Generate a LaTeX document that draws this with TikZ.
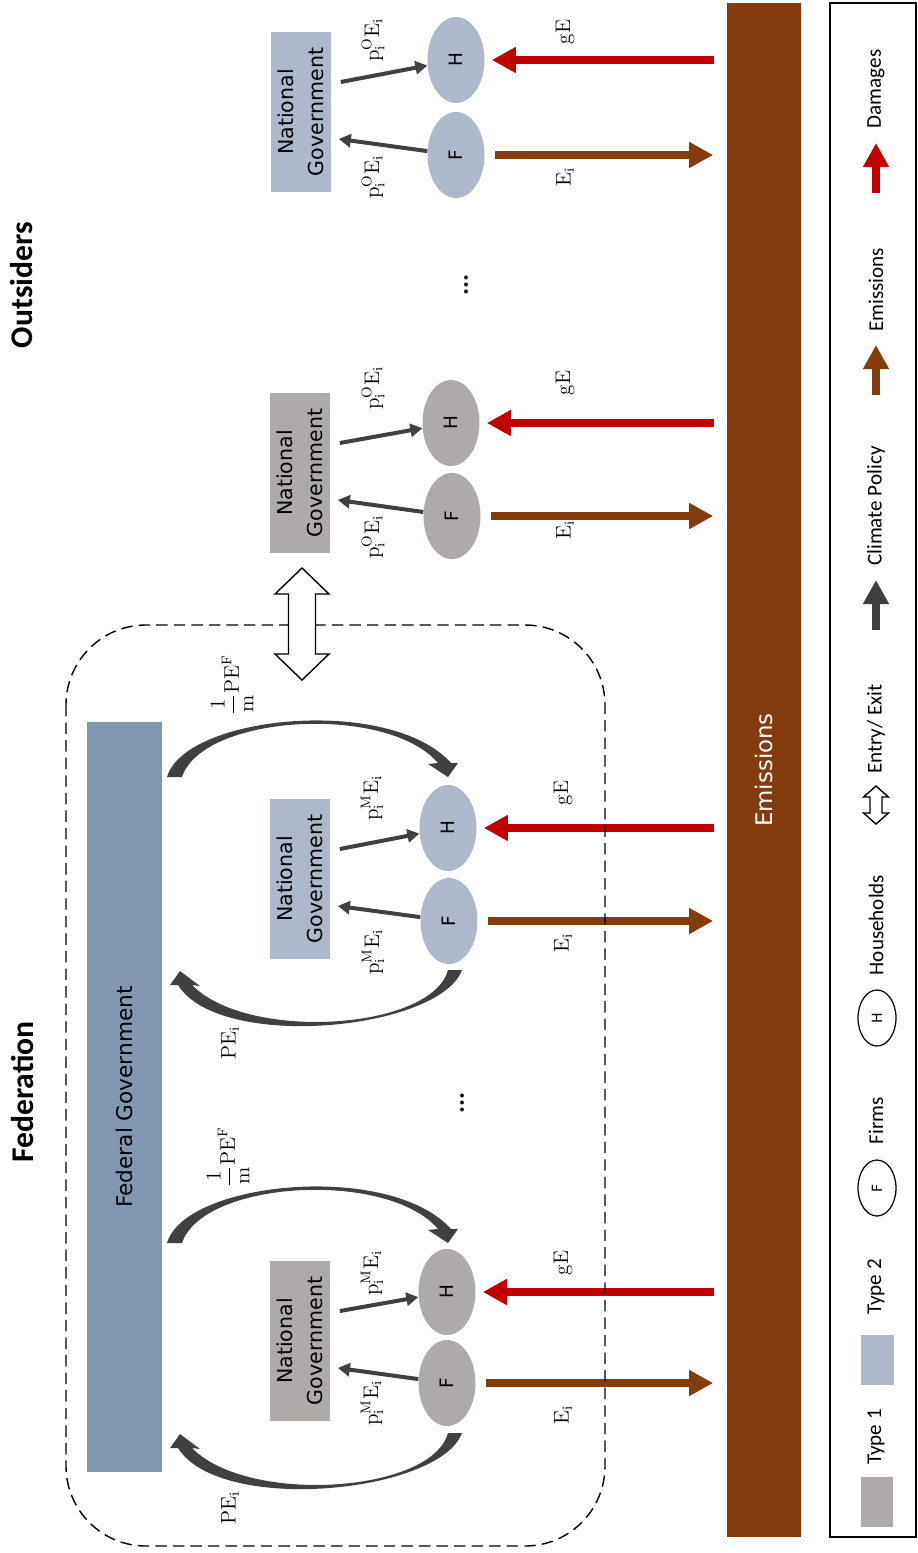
\documentclass[tikz,border=0pt]{standalone}
\usepackage{amsmath}
\usepackage{fontspec}
\newfontfamily\calibri{Carlito}
\newfontfamily\dejavu{DejaVu Sans}
\usepackage{tikz}
\usetikzlibrary{arrows.meta,positioning,shapes.geometric,calc}
\definecolor{cinzaTipo}{HTML}{AEAAAA}
\definecolor{azulTipo}{HTML}{ADB9CA}
\definecolor{azulFederal}{HTML}{8497B0}
\definecolor{marromEmissao}{HTML}{843C0C}
\definecolor{vermelhoDano}{HTML}{C00000}
\definecolor{cinzaEscuro}{HTML}{404040}
\tikzset{
    governo/.style={
        rectangle,
        rotate=90,
        align=center,
        inner sep=0pt,
        minimum width=3.2cm,
        minimum height=1.22cm,
        font=\dejavu\fontsize{11.7}{17}\selectfont
    },
    tipoUm/.style={governo, fill=cinzaTipo},
    tipoDois/.style={governo, fill=azulTipo},
    agente/.style={
        ellipse,
        rotate=90,
        inner sep=0pt,
        minimum width=1.72cm,
        minimum height=1.14cm,
        font=\dejavu\fontsize{10.5}{12}\selectfont
    },
    barra/.style={rectangle, rotate=90, inner sep=0pt, minimum height=1.5cm},
    rotulo/.style={rotate=90, inner sep=1pt, font=\fontsize{12}{14}\selectfont},
    politica/.style={-{Triangle[length=0.24cm, width=0.26cm]}, line width=0.08cm, draw=cinzaEscuro},
    setaGrossa/.style={-{Triangle[length=0.48cm, width=0.49cm]}, line width=0.165cm},
    emissao/.style={setaGrossa, draw=marromEmissao},
    dano/.style={setaGrossa, draw=vermelhoDano},
    curvaSeta/.style={fill=cinzaEscuro},
    regiaoFederacao/.style={draw, dash pattern=on 6.5pt off 3.5pt, line width=0.8pt, rounded corners=1.6cm},
    duplaSeta/.style={draw, fill=white, line width=0.8pt, line join=miter},
    legendaTexto/.style={rotate=90, font=\calibri\fontsize{12}{14}\selectfont},
    titulo/.style={rotate=90, font=\calibri\bfseries\fontsize{18}{21}\selectfont}
}
\newcommand{\arcoFederalH}{%
    \fill[curvaSeta] (167,777) .. controls (185,715) and (390,695) .. (451,763)
        -- (458,763) -- (448,777) -- (428,764) -- (438,763)
        .. controls (388,704) and (203,714) .. (182,777) -- cycle;}
\newcommand{\arcoFFederal}{%
    \fill[curvaSeta] (462,970) .. controls (440,1030) and (220,1052) .. (178,985)
        -- (170,985) -- (180,971) -- (200,986) -- (192,985)
        .. controls (248,1042) and (432,1030) .. (448,970) -- cycle;}

\begin{document}
\begin{tikzpicture}[x=0.02cm, y=-0.02cm]
    \useasboundingbox (0,0) rectangle (918,1553);

    % titulos
    \node[titulo] (federacao) at (22,1092) {Federation};
    \node[titulo] (forasteiros) at (22,285) {Outsiders};

    % barras
    \node[barra, fill=marromEmissao, minimum width=30.68cm, text=white,
        font=\dejavu\fontsize{13}{15}\selectfont] (emis) at (764,770) {Emissions};
    \node[barra, fill=azulFederal, minimum width=15cm,
        font=\dejavu\fontsize{12.3}{15}\selectfont] (federal) at (124.5,1097) {Federal Government};

    % federacao, tipo 1
    \node[tipoUm] (ngA) at (300,1341) {National\\Government};
    \node[agente, fill=cinzaTipo] (hA) at (447,1292) {H};
    \node[agente, fill=cinzaTipo] (fA) at (447,1383) {F};
    % federacao, tipo 2
    \node[tipoDois] (ngB) at (300,879) {National\\Government};
    \node[agente, fill=azulTipo] (hB) at (448,828) {H};
    \node[agente, fill=azulTipo] (fB) at (449,921) {F};
    % outsiders, tipo 1
    \node[tipoUm] (ngC) at (300,473) {National\\Government};
    \node[agente, fill=cinzaTipo] (hC) at (451,423) {H};
    \node[agente, fill=cinzaTipo] (fC) at (452,516) {F};
    % outsiders, tipo 2
    \node[tipoDois] (ngD) at (301,112) {National\\Government};
    \node[agente, fill=azulTipo] (hD) at (456,60) {H};
    \node[agente, fill=azulTipo] (fD) at (456,155) {F};

    \node[rotate=90, font=\calibri\bfseries\fontsize{15}{16}\selectfont] (reticA) at (462,1103) {...};
    \node[rotate=90, font=\calibri\bfseries\fontsize{15}{16}\selectfont] (reticB) at (466,285) {...};

    % fluxos
    \foreach \g in {A,B,C,D}{
        \draw[dano, shorten <=0.24cm, shorten >=0.14cm] (emis.north |- h\g) -- (h\g);
        \draw[emissao, shorten <=0.2cm, shorten >=0.26cm] (f\g) -- (emis.north |- f\g);
        \draw[politica] ($(ng\g.south)+(9,-30)$) -- (h\g);
        \draw[politica] (f\g) -- ($(ng\g.south)+(7,27)$);
    }

    % transferencias federais
    \arcoFederalH
    \arcoFFederal
    \begin{scope}[shift={(0,466)}]
        \arcoFederalH
    \end{scope}
    \begin{scope}[shift={(0,463)}]
        \arcoFFederal
    \end{scope}

    % rotulos
    \node[rotulo] at (372,1273) {$\mathrm{p_i^{M}E_i}$};
    \node[rotulo] at (372,1403) {$\mathrm{p_i^{M}E_i}$};
    \node[rotulo] at (563,1263) {$\mathrm{gE}$};
    \node[rotulo] at (563,1415) {$\mathrm{E_i}$};
    \node[rotulo] at (228,1157) {$\mathrm{\dfrac{1}{m}PE^{F}}$};
    \node[rotulo] at (230,1508) {$\mathrm{PE_i}$};

    \node[rotulo] at (372,798) {$\mathrm{p_i^{M}E_i}$};
    \node[rotulo] at (373,952) {$\mathrm{p_i^{M}E_i}$};
    \node[rotulo] at (563,793) {$\mathrm{gE}$};
    \node[rotulo] at (563,943) {$\mathrm{E_i}$};
    \node[rotulo] at (232,685) {$\mathrm{\dfrac{1}{m}PE^{F}}$};
    \node[rotulo] at (230,1043) {$\mathrm{PE_i}$};

    \node[rotulo] at (373,388) {$\mathrm{p_i^{O}E_i}$};
    \node[rotulo] at (373,537) {$\mathrm{p_i^{O}E_i}$};
    \node[rotulo] at (565,383) {$\mathrm{gE}$};
    \node[rotulo] at (565,530) {$\mathrm{E_i}$};

    \node[rotulo] at (373,40) {$\mathrm{p_i^{O}E_i}$};
    \node[rotulo] at (373,177) {$\mathrm{p_i^{O}E_i}$};
    \node[rotulo] at (565,32) {$\mathrm{gE}$};
    \node[rotulo] at (565,177) {$\mathrm{E_i}$};

    % federacao
    \draw[regiaoFederacao] (66,625) rectangle (605,1546);
    \draw[duplaSeta] (302,568) -- (329,594) -- (315.5,594) -- (315.5,654) -- (329,654)
        -- (302,680) -- (275,654) -- (288.5,654) -- (288.5,594) -- (275,594) -- cycle;

    % legenda
    \node[draw, line width=0.8pt, rotate=90, inner sep=0pt, minimum width=30.68cm,
        minimum height=1.72cm] (legenda) at (873,770) {};
    \node[rotate=90, fill=cinzaTipo, inner sep=0pt, minimum width=1cm, minimum height=0.64cm] (tipo1) at (877,1502) {};
    \node[legendaTexto] at (876,1437) {Type 1};
    \node[rotate=90, fill=azulTipo, inner sep=0pt, minimum width=1cm, minimum height=0.66cm] (tipo2) at (877,1360) {};
    \node[legendaTexto] at (876,1287) {Type 2};
    \node[agente, draw, line width=0.7pt, minimum width=1.12cm, minimum height=0.76cm,
        font=\dejavu\fontsize{8}{10}\selectfont] (legF) at (877,1188) {F};
    \node[legendaTexto] at (876,1121) {Firms};
    \node[agente, draw, line width=0.7pt, minimum width=1.12cm, minimum height=0.76cm,
        font=\dejavu\fontsize{8}{10}\selectfont] (legH) at (877,1018) {H};
    \node[legendaTexto] at (876,925) {Households};
    \draw[duplaSeta] (876,786) -- (888.5,797) -- (882,797) -- (882,813) -- (888.5,813)
        -- (876,824) -- (863.5,813) -- (870,813) -- (870,797) -- (863.5,797) -- cycle;
    \node[legendaTexto] at (876,729) {Entry/ Exit};
    \draw[setaGrossa, draw=cinzaEscuro] (876,630) -- (876,580);
    \node[legendaTexto] at (876,506) {Climate Policy};
    \draw[emissao] (876,395) -- (876,345);
    \node[legendaTexto] at (876,290) {Emissions};
    \draw[dano] (876,193) -- (876,143);
    \node[legendaTexto] at (876,89) {Damages};
\end{tikzpicture}
\end{document}
